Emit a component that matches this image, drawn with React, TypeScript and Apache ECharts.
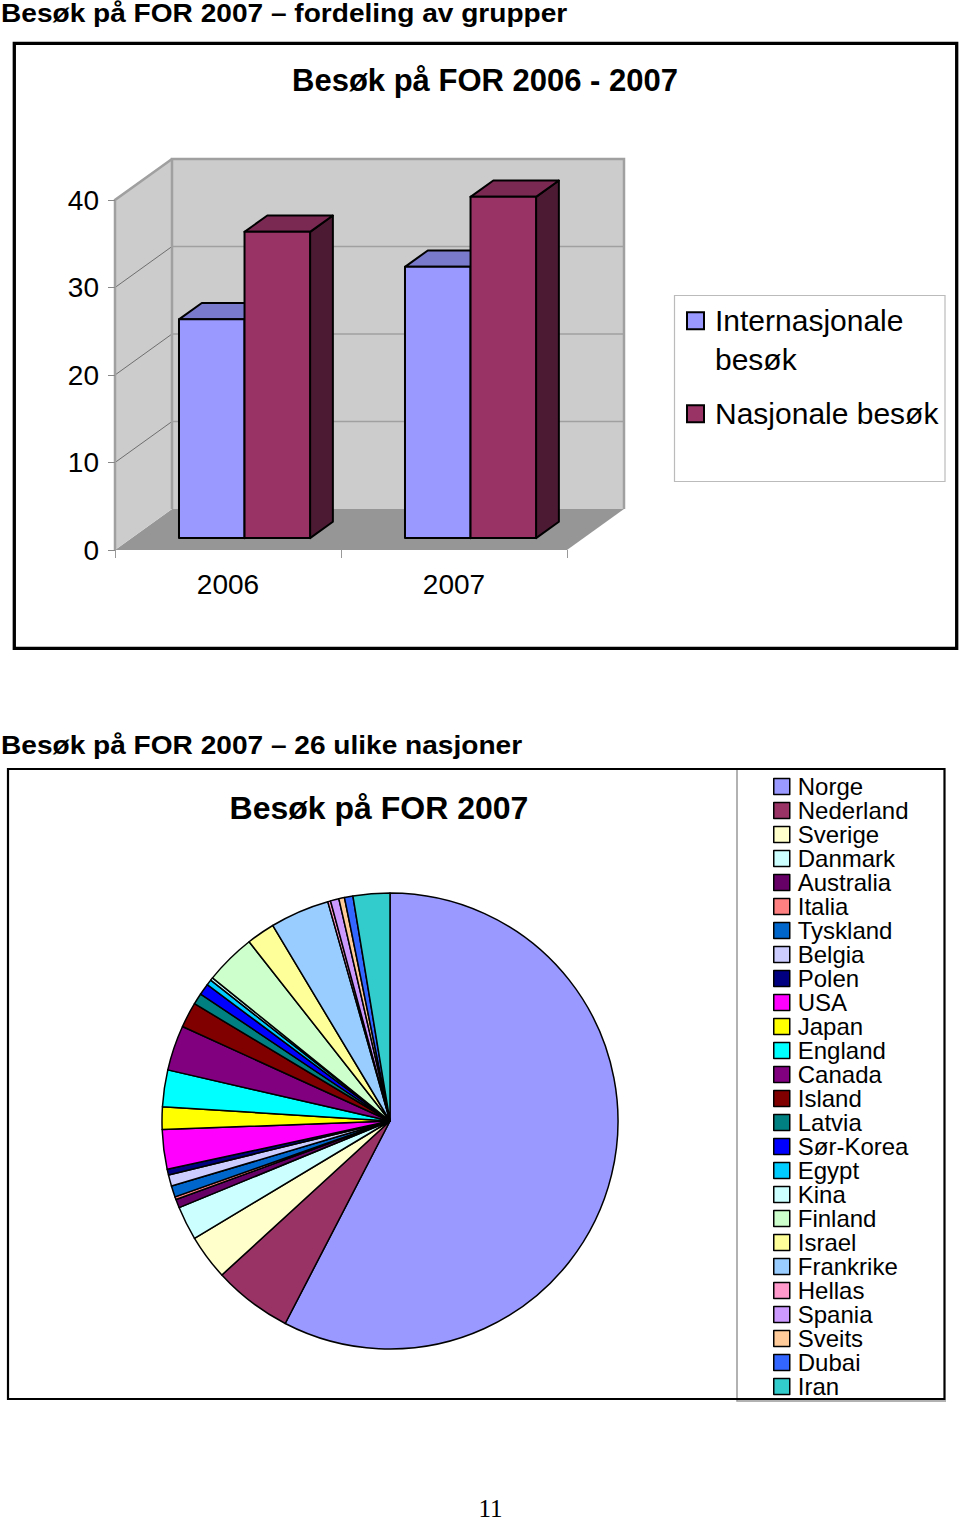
import React, { useEffect, useRef } from 'react';
import * as echarts from 'echarts';

// ---------- data ----------
const years = ['2006', '2007'];
const barSeriesNames = ['Internasjonale besøk', 'Nasjonale besøk'];
const internasjonale = [25, 31];
const nasjonale = [35, 39];
const yTicks = [0, 10, 20, 30, 40];

const countries = [
  'Norge', 'Nederland', 'Sverige', 'Danmark', 'Australia', 'Italia', 'Tyskland', 'Belgia',
  'Polen', 'USA', 'Japan', 'England', 'Canada', 'Island', 'Latvia', 'Sør-Korea', 'Egypt',
  'Kina', 'Finland', 'Israel', 'Frankrike', 'Hellas', 'Spania', 'Sveits', 'Dubai', 'Iran',
];
const visits = [288, 28, 16, 12, 3, 1, 4, 4, 2, 14, 8, 13, 16, 9, 4, 4, 2, 1, 18, 10, 21, 1, 3, 2, 3, 13];
const countryColors = [
  '#9999FF', '#993366', '#FFFFCC', '#CCFFFF', '#660066', '#FF8080', '#0066CC', '#CCCCFF',
  '#000080', '#FF00FF', '#FFFF00', '#00FFFF', '#800080', '#800000', '#008080', '#0000FF',
  '#00CCFF', '#CCFFFF', '#CCFFCC', '#FFFF99', '#99CCFF', '#FF99CC', '#CC99FF', '#FFCC99',
  '#3366FF', '#33CCCC',
];

// ---------- style constants ----------
const FONT = '"Liberation Sans", Arial, Helvetica, sans-serif';
const DEPTH: [number, number] = [57, -41];
const BAR_FRONT = 0.29;
const BAR_DEPTH = 0.4;
const BAR_WIDTH = 0.29;
const barFaces = [
  { front: '#9999FF', top: '#7A7ACC', side: '#4D4D80' },
  { front: '#993366', top: '#7A2952', side: '#4D1A33' },
];

function barRender(seriesIdx: number) {
  const c = barFaces[seriesIdx];
  return (params: any, api: any) => {
    const cat = api.value(0);
    const val = api.value(1);
    const base = api.coord([cat, 0]);
    const tip = api.coord([cat, val]);
    const band = api.size([1, 0])[0];
    const w = band * BAR_WIDTH;
    const ox = DEPTH[0] * BAR_FRONT;
    const oy = DEPTH[1] * BAR_FRONT;
    const dx = DEPTH[0] * BAR_DEPTH;
    const dy = DEPTH[1] * BAR_DEPTH;
    const x0 = base[0] + (seriesIdx === 0 ? -w : 0) + ox;
    const x1 = x0 + w;
    const yb = base[1] + oy;
    const yt = tip[1] + oy;
    const st = { stroke: '#000', lineWidth: 2, lineJoin: 'round' };
    return {
      type: 'group',
      children: [
        { type: 'polygon', shape: { points: [[x1, yb], [x1, yt], [x1 + dx, yt + dy], [x1 + dx, yb + dy]] }, style: { ...st, fill: c.side } },
        { type: 'polygon', shape: { points: [[x0, yt], [x1, yt], [x1 + dx, yt + dy], [x0 + dx, yt + dy]] }, style: { ...st, fill: c.top } },
        { type: 'rect', shape: { x: x0, y: yt, width: w, height: yb - yt }, style: { ...st, fill: c.front } },
      ],
    };
  };
}

function wallRender(params: any, api: any) {
  const cs = params.coordSys;
  const x0 = cs.x;
  const x1 = cs.x + cs.width;
  const yTop = cs.y;
  const yBot = cs.y + cs.height;
  const [dx, dy] = DEPTH;
  const children: any[] = [];
  children.push({ type: 'polygon', shape: { points: [[x0, yBot], [x1, yBot], [x1 + dx, yBot + dy], [x0 + dx, yBot + dy]] }, style: { fill: '#969696' } });
  children.push({ type: 'polygon', shape: { points: [[x0, yBot], [x0, yTop], [x0 + dx, yTop + dy], [x0 + dx, yBot + dy]] }, style: { fill: '#CCCCCC' } });
  children.push({ type: 'rect', shape: { x: x0 + dx, y: yTop + dy, width: cs.width, height: cs.height }, style: { fill: '#CCCCCC' } });
  yTicks.forEach((v) => {
    if (v === 0) return;
    const y = api.coord([0, v])[1];
    children.push({ type: 'line', shape: { x1: x0 + dx, y1: y + dy, x2: x1 + dx, y2: y + dy }, style: { stroke: '#A0A0A0', lineWidth: 1.5 } });
    children.push({ type: 'line', shape: { x1: x0, y1: y, x2: x0 + dx, y2: y + dy }, style: { stroke: '#555', lineWidth: 0.8 } });
  });
  children.push({ type: 'polyline', shape: { points: [[x0 + dx, yBot + dy], [x0 + dx, yTop + dy], [x1 + dx, yTop + dy], [x1 + dx, yBot + dy]] }, style: { fill: 'none', stroke: '#A0A0A0', lineWidth: 2.5 } });
  children.push({ type: 'polyline', shape: { points: [[x0, yBot], [x0, yTop], [x0 + dx, yTop + dy]] }, style: { fill: 'none', stroke: '#A0A0A0', lineWidth: 2.5 } });
  return { type: 'group', children };
}

export default function App() {
  const ref = useRef<HTMLDivElement>(null);
  useEffect(() => {
    if (!ref.current) return;
    const chart = echarts.init(ref.current, null, { renderer: 'svg' });
    const option: any = {
      animation: false,
      backgroundColor: '#fff',
      textStyle: { fontFamily: FONT },
      grid: [{ left: 115, top: 200, width: 452, height: 350, containLabel: false }],
      xAxis: [{
        type: 'category', data: years, gridIndex: 0, z: 10,
        axisLine: { show: false },
        axisTick: { show: true, length: 8, lineStyle: { color: '#999', width: 1 } },
        axisLabel: { fontSize: 28, color: '#000', margin: 20, fontFamily: FONT },
        splitLine: { show: false },
      }],
      yAxis: [{
        type: 'value', min: 0, max: 40, interval: 10, gridIndex: 0, z: 10,
        axisLine: { show: false },
        axisTick: { show: true, length: 7, lineStyle: { color: '#888', width: 1 } },
        axisLabel: { fontSize: 28, color: '#000', margin: 16, fontFamily: FONT },
        splitLine: { show: false },
      }],
      legend: [
        {
          orient: 'vertical', left: 686, top: 263, itemWidth: 17, itemHeight: 17, itemGap: 16,
          padding: 0,
          selectedMode: false,
          data: [
            { name: barSeriesNames[0], icon: 'rect', itemStyle: { color: barFaces[0].front, borderColor: '#000', borderWidth: 2 } },
            { name: barSeriesNames[1], icon: 'rect', itemStyle: { color: barFaces[1].front, borderColor: '#000', borderWidth: 2 } },
          ],
          formatter: (name: string) => (name === barSeriesNames[0] ? ' \nInternasjonale\nbesøk' : name),
          textStyle: { fontSize: 30, lineHeight: 38.5, color: '#000', fontFamily: FONT, padding: [0, 0, 0, 6] },
        },
        {
          orient: 'vertical', left: 773, top: 774.5, itemWidth: 16, itemHeight: 16, itemGap: 0,
          padding: 0,
          selectedMode: false,
          icon: 'rect',
          data: countries,
          itemStyle: { borderColor: '#000', borderWidth: 1.5 },
          textStyle: { fontSize: 24, lineHeight: 24, color: '#000', fontFamily: FONT, padding: [0, 0, 0, 3] },
        },
      ],
      series: [
        {
          type: 'custom', name: 'walls', xAxisIndex: 0, yAxisIndex: 0, z: 1, clip: false, silent: true,
          data: [[0, 0]], renderItem: wallRender,
        },
        {
          type: 'custom', name: barSeriesNames[0], xAxisIndex: 0, yAxisIndex: 0, z: 2, clip: false,
          itemStyle: { color: barFaces[0].front },
          data: years.map((_, i) => [i, internasjonale[i]]), renderItem: barRender(0),
        },
        {
          type: 'custom', name: barSeriesNames[1], xAxisIndex: 0, yAxisIndex: 0, z: 2, clip: false,
          itemStyle: { color: barFaces[1].front },
          data: years.map((_, i) => [i, nasjonale[i]]), renderItem: barRender(1),
        },
        {
          type: 'pie', name: 'Besøk på FOR 2007', center: [390, 1121], radius: 228,
          startAngle: 90, clockwise: true, avoidLabelOverlap: false, minAngle: 0,
          label: { show: false }, labelLine: { show: false },
          emphasis: { disabled: true },
          itemStyle: { borderColor: '#000', borderWidth: 1.5 },
          data: countries.map((n, i) => ({ name: n, value: visits[i], itemStyle: { color: countryColors[i] } })),
        },
      ],
      graphic: [
        { type: 'rect', z: 100, silent: true, shape: { x: 14.3, y: 43.4, width: 942.4, height: 605 }, style: { fill: 'none', stroke: '#000', lineWidth: 3.3 } },
        { type: 'rect', z: 100, silent: true, shape: { x: 674.5, y: 295.5, width: 270.5, height: 186 }, style: { fill: 'none', stroke: '#BBBBBB', lineWidth: 1.2 } },
        { type: 'polyline', z: 99, silent: true, shape: { points: [[737, 770], [737, 1401], [946, 1401]] }, style: { fill: 'none', stroke: '#999', lineWidth: 1.5 } },
        { type: 'rect', z: 100, silent: true, shape: { x: 8, y: 769, width: 936.5, height: 630 }, style: { fill: 'none', stroke: '#000', lineWidth: 2.2 } },
        { type: 'text', z: 100, x: 1, y: 14, scaleX: 1.123, style: { text: 'Besøk på FOR 2007 – fordeling av grupper', font: `bold 25px ${FONT}`, fill: '#000', verticalAlign: 'middle', align: 'left' } },
        { type: 'text', z: 100, x: 1, y: 745.5, scaleX: 1.123, style: { text: 'Besøk på FOR 2007 – 26 ulike nasjoner', font: `bold 25px ${FONT}`, fill: '#000', verticalAlign: 'middle', align: 'left' } },
        { type: 'text', z: 100, x: 485, y: 80, style: { text: 'Besøk på FOR 2006 - 2007', font: `bold 31px ${FONT}`, fill: '#000', verticalAlign: 'middle', align: 'center' } },
        { type: 'text', z: 100, x: 379, y: 808, style: { text: 'Besøk på FOR 2007', font: `bold 32px ${FONT}`, fill: '#000', verticalAlign: 'middle', align: 'center' } },
        { type: 'text', z: 100, x: 490.5, y: 1508, style: { text: '11', font: `25px "Liberation Serif", "Times New Roman", serif`, lineHeight: 20, fill: '#000', verticalAlign: 'middle', align: 'center' } },
      ],
    };
    chart.setOption(option);
    return () => chart.dispose();
  }, []);
  return <div ref={ref} style={{ position: 'absolute', left: 0, top: 0, width: 960, height: 1520 }} />;
}
